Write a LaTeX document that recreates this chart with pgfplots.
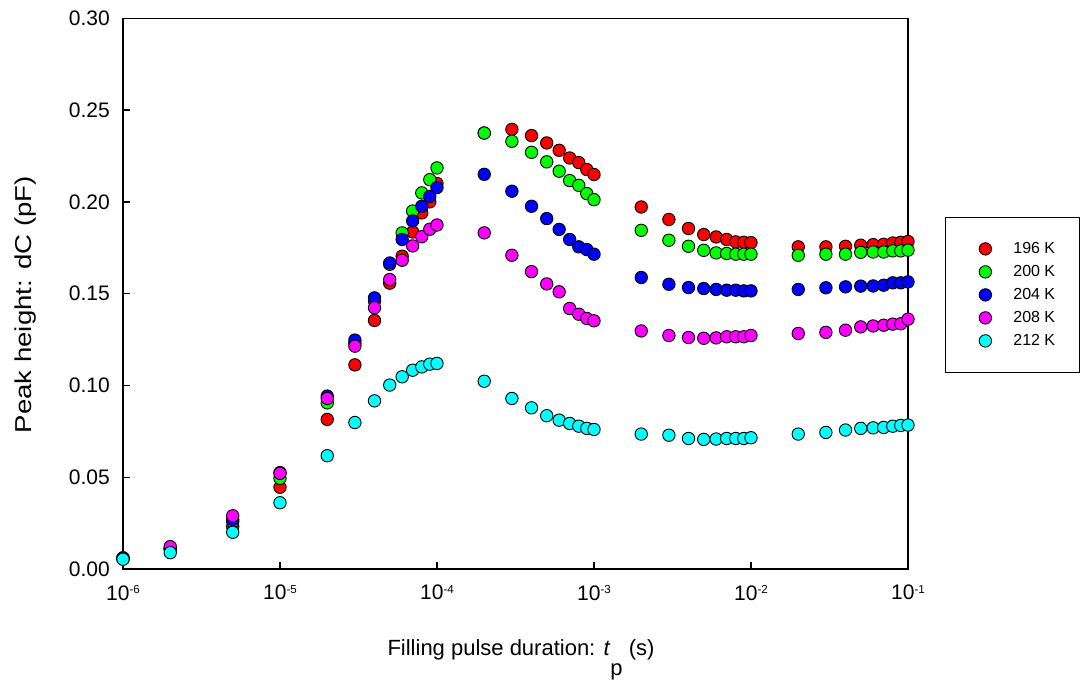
\documentclass[border=0pt]{standalone}
\usepackage{pgfplots}
\pgfplotsset{compat=1.18}
\usepackage{pgfplotstable}
\usepackage{fontspec}
\setmainfont{Liberation Sans}
\definecolor{cR}{rgb}{1,0,0}
\definecolor{cG}{rgb}{0,1,0}
\definecolor{cB}{rgb}{0,0,1}
\definecolor{cM}{rgb}{1,0,1}
\definecolor{cC}{rgb}{0,1,1}
\newcommand{\tl}[1]{10\raisebox{6.7pt}{\fontsize{11.6}{12}\selectfont #1}}

\pgfplotstableread{
t      a       b       c       d       e
1e-6   0.0060  0.0060  0.0060  0.0055  0.0053
2e-6   0.0110  0.0110  0.0110  0.0122  0.0089
5e-6   0.0230  0.0258  0.0270  0.0290  0.0200
1e-5   0.0445  0.0494  0.0525  0.0521  0.0361
2e-5   0.0815  0.0905  0.0942  0.0929  0.0617
3e-5   0.1112  0.1230  0.1247  0.1214  0.0798
4e-5   0.1354  0.1460  0.1477  0.1423  0.0916
5e-5   0.1557  0.1660  0.1667  0.1577  0.1002
6e-5   0.1704  0.1831  0.1795  0.1682  0.1047
7e-5   0.1836  0.1950  0.1896  0.1760  0.1083
8e-5   0.1940  0.2049  0.1976  0.1810  0.1101
9e-5   0.2000  0.2121  0.2030  0.1851  0.1116
1e-4   0.2100  0.2185  0.2078  0.1874  0.1120
2e-4   0.2375  0.2375  0.2150  0.1831  0.1023
3e-4   0.2395  0.2330  0.2058  0.1709  0.0929
4e-4   0.2361  0.2270  0.1976  0.1620  0.0878
5e-4   0.2321  0.2218  0.1909  0.1553  0.0835
6e-4   0.2281  0.2167  0.1850  0.1510  0.0811
7e-4   0.2239  0.2116  0.1795  0.1419  0.0793
8e-4   0.2214  0.2090  0.1755  0.1388  0.0778
9e-4   0.2176  0.2045  0.1740  0.1365  0.0766
1e-3   0.2149  0.2012  0.1715  0.1352  0.0760
2e-3   0.1972  0.1845  0.1588  0.1297  0.0735
3e-3   0.1904  0.1791  0.1551  0.1272  0.0729
4e-3   0.1855  0.1758  0.1533  0.1261  0.0711
5e-3   0.1822  0.1736  0.1528  0.1257  0.0706
6e-3   0.1809  0.1722  0.1523  0.1259  0.0708
7e-3   0.1795  0.1719  0.1519  0.1265  0.0711
8e-3   0.1782  0.1715  0.1519  0.1265  0.0711
9e-3   0.1780  0.1715  0.1515  0.1265  0.0711
1e-2   0.1778  0.1715  0.1515  0.1272  0.0715
2e-2   0.1755  0.1709  0.1523  0.1283  0.0735
3e-2   0.1755  0.1715  0.1532  0.1289  0.0744
4e-2   0.1758  0.1715  0.1537  0.1301  0.0757
5e-2   0.1764  0.1725  0.1541  0.1319  0.0766
6e-2   0.1767  0.1727  0.1542  0.1324  0.0769
7e-2   0.1769  0.1727  0.1546  0.1328  0.0771
8e-2   0.1776  0.1733  0.1559  0.1334  0.0778
9e-2   0.1780  0.1733  0.1559  0.1336  0.0782
1e-1   0.1784  0.1737  0.1564  0.1361  0.0784
}\data

\begin{document}
\begin{tikzpicture}
\useasboundingbox (-123pt,-111pt) rectangle (958pt,569pt);
\begin{axis}[
  at={(0pt,0pt)}, anchor=south west,
  scale only axis, width=785pt, height=550.7pt,
  xmode=log, xmin=1e-6, xmax=1e-1, ymin=0, ymax=0.30,
  xtick={1e-6,1e-5,1e-4,1e-3,1e-2,1e-1},
  xticklabels={\tl{-6},\tl{-5},\tl{-4},\tl{-3},\tl{-2},\tl{-1}},
  xminorticks=false,
  ytick={0,0.05,0.10,0.15,0.20,0.25,0.30},
  scaled y ticks=false,
  xtick pos=bottom, ytick pos=left,
  tick align=inside, major tick length=7pt,
  axis line style={line width=1.3pt},
  every tick/.style={line width=1.3pt, black},
  tick label style={font=\fontsize{21}{21}\selectfont},
  yticklabel style={/pgf/number format/fixed, /pgf/number format/fixed zerofill,
    /pgf/number format/precision=2, /pgf/number format/assume math mode=true,
    inner sep=0pt, xshift=-13pt},
  xticklabel style={inner sep=0pt, yshift=-16pt},
  xlabel={Filling pulse duration: \textit{t}\raisebox{-19.5pt}{p} (s)},
  xlabel style={font=\fontsize{22}{22}\selectfont, at={(axis description cs:0.507,0)},
    anchor=base, yshift=-86.7pt, inner sep=0pt},
  ylabel={\scalebox{1.2}[1]{Peak height: dC (pF)}},
  ylabel style={font=\fontsize{23}{23}\selectfont, at={(axis description cs:-0.1163,0.48)},
    anchor=base, inner sep=0pt},
  legend style={at={(1.0471,0.6392)}, anchor=north west, draw=black, line width=0.8pt,
    fill=white, inner xsep=22pt, inner ysep=22pt, row sep=4pt, column sep=14pt,
    font=\fontsize{16}{16}\selectfont,
    nodes={inner sep=2pt, text height=12pt, text depth=3pt}},
  legend cell align=left,
  legend image code/.code={\path[draw=none,fill=none] (0pt,-4pt) rectangle (30pt,4pt);
    \draw[mark repeat=2,mark phase=2,#1] plot coordinates {(12pt,0pt) (18pt,0pt) (24pt,0pt)};},
  every axis plot/.append style={only marks, mark=*, mark size=6.2pt},
]
\addplot[mark options={fill=cR, draw=black, line width=0.9pt}] table[x=t,y=a]{\data};
\addlegendentry{196 K}
\addplot[mark options={fill=cG, draw=black, line width=0.9pt}] table[x=t,y=b]{\data};
\addlegendentry{200 K}
\addplot[mark options={fill=cB, draw=black, line width=0.9pt}] table[x=t,y=c]{\data};
\addlegendentry{204 K}
\addplot[mark options={fill=cM, draw=black, line width=0.9pt}] table[x=t,y=d]{\data};
\addlegendentry{208 K}
\addplot[mark options={fill=cC, draw=black, line width=0.9pt}] table[x=t,y=e]{\data};
\addlegendentry{212 K}
\end{axis}
\end{tikzpicture}
\end{document}
